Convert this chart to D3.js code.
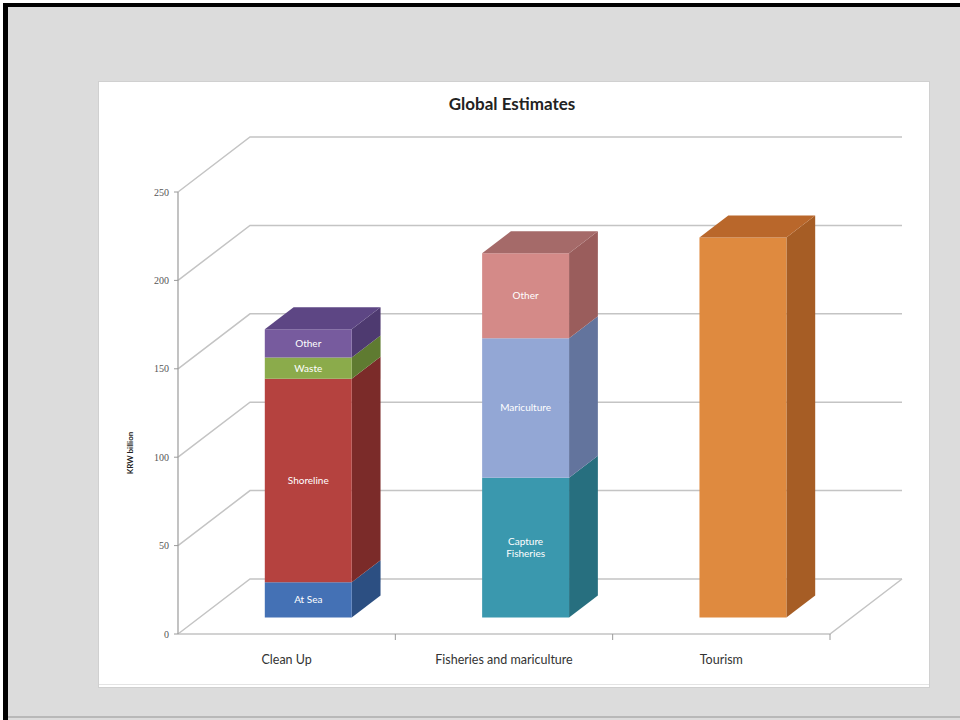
<!DOCTYPE html>
<html><head><meta charset="utf-8">
<script src="https://cdn.jsdelivr.net/npm/d3@7"></script>
<style>html,body{margin:0;padding:0;background:#dcdcdc;}svg{display:block;}</style>
</head><body>
<svg id="chart" width="960" height="720"></svg>
<script>
// ---- data ----
const categories = ["Clean Up", "Fisheries and mariculture", "Tourism"];
const cleanUpSegments = ["At Sea", "Shoreline", "Waste", "Other"];
const cleanUpValues = [20, 115, 12, 16];
const fisheriesSegments = ["Capture\nFisheries", "Mariculture", "Other"];
const fisheriesValues = [79, 79, 48];
const tourismSegments = [""];
const tourismValues = [215];
const yTicks = [0, 50, 100, 150, 200, 250];
const titleText = "Global Estimates";
const yAxisTitle = "KRW billion";

// colours: [front, side, top]
const cleanUpColors = [["#4471b5","#2c4f82","#3a5f98"],["#b5423f","#7b2b29","#8f3431"],["#8bab4b","#5f7b31","#6f8e3b"],["#775b9e","#4e3a70","#5d4684"]];
const fisheriesColors = [["#3a98ae","#276f7f","#2f8093"],["#93a7d5","#63749d","#7587b3"],["#d48a88","#9a5d5c","#a56a69"]];
const tourismColors = [["#df8a3f","#a65d25","#b9672b"]];

const series = [
  {cat: categories[0], names: cleanUpSegments, values: cleanUpValues, colors: cleanUpColors},
  {cat: categories[1], names: fisheriesSegments, values: fisheriesValues, colors: fisheriesColors},
  {cat: categories[2], names: tourismSegments, values: tourismValues, colors: tourismColors}
];

const svg = d3.select("#chart");
const font = "Lato, 'Open Sans', sans-serif";

// background frame
svg.append("rect").attr("x",0).attr("y",0).attr("width",960).attr("height",720).attr("fill","#dcdcdc");
svg.append("rect").attr("x",0).attr("y",0).attr("width",960).attr("height",3).attr("fill","#fff");
svg.append("rect").attr("x",0).attr("y",0).attr("width",3).attr("height",720).attr("fill","#fff");
svg.append("rect").attr("x",3).attr("y",3).attr("width",957).attr("height",4).attr("fill","#000");
svg.append("rect").attr("x",3).attr("y",3).attr("width",5).attr("height",717).attr("fill","#000");
svg.append("rect").attr("x",8).attr("y",716).attr("width",952).attr("height",2).attr("fill","#b8b8b8");

// chart area
svg.append("rect").attr("x",98.5).attr("y",81.5).attr("width",831).attr("height",606)
  .attr("fill","#fff").attr("stroke","#d0d0d0").attr("stroke-width",1);
svg.append("line").attr("x1",99).attr("x2",929).attr("y1",684.5).attr("y2",684.5).attr("stroke","#e4e4e4");

// ---- scales / projection ----
const x0 = 178, x1 = 830, yBase = 634, yTop = 192;
const DX = 72, DY = -55;
const y = d3.scaleLinear().domain([0, 250]).range([yBase, yTop]);
const xb = d3.scaleBand().domain(categories).range([x0, x1]).padding(0);
const barFrac = 0.4;
const dFront = 0.3, dBack = 0.7;
const P = (xx, v, d) => [xx + d * DX, y(v) + d * DY];

const grid = svg.append("g").attr("stroke","#c4c4c4").attr("stroke-width",1.5).attr("fill","none");
// back wall + side wall lines
yTicks.forEach(v => {
  const a = P(x0, v, 0), b = P(x0, v, 1), c = P(x1, v, 1);
  grid.append("path").attr("d", `M${a[0]},${a[1]}L${b[0]},${b[1]}L${c[0]},${c[1]}`);
});
// floor front & right edges
{
  const a = P(x0,0,0), b = P(x1,0,0), c = P(x1,0,1);
  grid.append("path").attr("d", `M${a[0]},${a[1]}L${b[0]},${b[1]}L${c[0]},${c[1]}`);
}
// y axis line
svg.append("line").attr("x1",x0).attr("x2",x0).attr("y1",y(250)).attr("y2",y(0))
  .attr("stroke","#9a9a9a").attr("stroke-width",1.2);
// y ticks & labels
yTicks.forEach(v => {
  svg.append("line").attr("x1",x0-4).attr("x2",x0).attr("y1",y(v)).attr("y2",y(v)).attr("stroke","#9a9a9a");
  svg.append("text").attr("x",x0-9).attr("y",y(v)).attr("dy","0.35em").attr("text-anchor","end")
    .attr("font-family","'Liberation Serif', serif").attr("font-size",10).attr("fill","#555").text(v);
});
// category ticks
categories.forEach((c,i) => {
  const xx = xb(c) + xb.bandwidth();
  svg.append("line").attr("x1",xx).attr("x2",xx).attr("y1",yBase).attr("y2",yBase+6).attr("stroke","#9a9a9a");
});
// category labels
categories.forEach(c => {
  svg.append("text").attr("x", xb(c) + xb.bandwidth()/2).attr("y", 664).attr("text-anchor","middle")
    .attr("font-family",font).attr("font-size",12.5).attr("fill","#333").text(c);
});

// ---- bars ----
const bars = svg.append("g");
series.forEach(s => {
  const bw = xb.bandwidth() * barFrac;
  const xl = xb(s.cat) + (xb.bandwidth() - bw) / 2, xr = xl + bw;
  let cum = 0;
  s.values.forEach((v, i) => {
    const lo = cum, hi = cum + v; cum = hi;
    const [front, side, top] = s.colors[i];
    const fbl = P(xl, lo, dFront), fbr = P(xr, lo, dFront), ftr = P(xr, hi, dFront), ftl = P(xl, hi, dFront);
    const bbr = P(xr, lo, dBack), btr = P(xr, hi, dBack), btl = P(xl, hi, dBack);
    bars.append("path").attr("d", `M${fbr}L${bbr}L${btr}L${ftr}Z`).attr("fill", side);
    bars.append("path").attr("d", `M${fbl}L${fbr}L${ftr}L${ftl}Z`).attr("fill", front);
    if (i === s.values.length - 1) {
      bars.append("path").attr("d", `M${ftl}L${ftr}L${btr}L${btl}Z`).attr("fill", top);
    }
    const name = s.names[i];
    if (name) {
      const lines = name.split("\n");
      const cx = (fbl[0] + fbr[0]) / 2, cy = (fbl[1] + ftl[1]) / 2;
      const t = bars.append("text").attr("x", cx).attr("y", cy).attr("text-anchor","middle")
        .attr("font-family", font).attr("font-size", 10).attr("fill", "#fff");
      lines.forEach((ln, k) => {
        t.append("tspan").attr("x", cx)
          .attr("dy", k === 0 ? `${0.35 - (lines.length - 1) * 0.6}em` : "1.2em").text(ln);
      });
    }
  });
});

// title
svg.append("text").attr("x", 512).attr("y", 110).attr("text-anchor","middle")
  .attr("font-family", font).attr("font-weight","bold").attr("font-size",17).attr("fill","#222").text(titleText);
// y axis title
svg.append("text").attr("transform", `translate(133,${(y(0)+y(250))/2+40}) rotate(-90)`)
  .attr("text-anchor","middle").attr("font-family", font).attr("font-weight","bold")
  .attr("font-size",8).attr("fill","#222").text(yAxisTitle);
</script>
</body></html>
